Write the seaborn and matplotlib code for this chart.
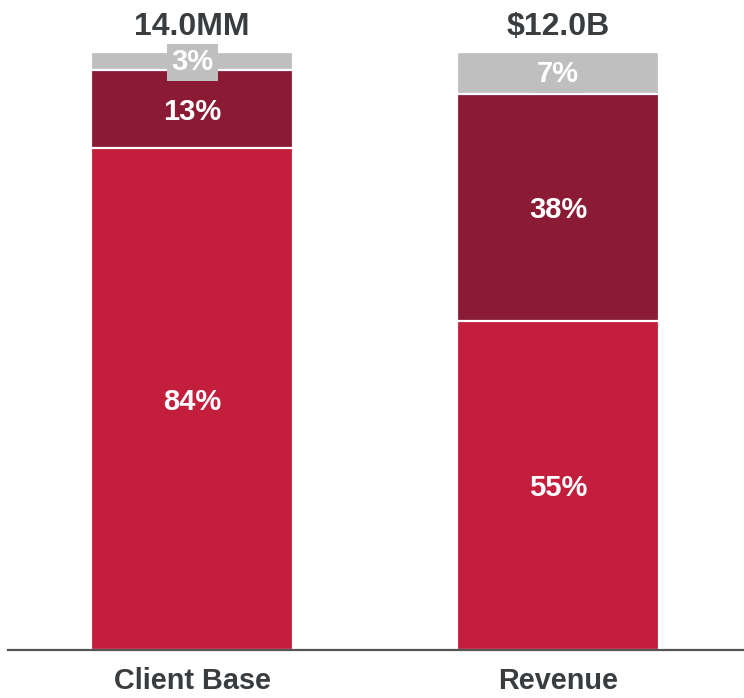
import matplotlib
matplotlib.use("Agg")
import matplotlib.pyplot as plt
import seaborn as sns
import pandas as pd

categories = ["Client Base", "Revenue"]
totals = ["14.0MM", "$12.0B"]
seg_bottom = [84, 55]   # bright red
seg_middle = [13, 38]   # dark red
seg_top = [3, 7]        # gray

RED = "#C41E3D"
DARK = "#8B1A34"
GRAY = "#BFBFBF"
TXT = "#3A3D40"

sns.set_theme(style="white")
plt.rcParams["font.family"] = ["Liberation Sans", "DejaVu Sans"]

fig = plt.figure(figsize=(7.44, 6.98), dpi=100)
ax = fig.add_axes([8 / 744, 1 - 650 / 698, 1 - 8 / 744, (650 - 52) / 698])

cum_mid = [b + m for b, m in zip(seg_bottom, seg_middle)]
cum_top = [c + t for c, t in zip(cum_mid, seg_top)]

df = pd.DataFrame({"cat": categories, "top": cum_top, "mid": cum_mid, "bot": seg_bottom})

for col, color in [("top", GRAY), ("mid", DARK), ("bot", RED)]:
    sns.barplot(data=df, x="cat", y=col, color=color, width=0.552, ax=ax,
                edgecolor="white", linewidth=1.6, saturation=1)

ax.set_xlim(-0.503, 1.508)
ax.set_ylim(0, 100)
ax.set_xlabel("")
ax.set_ylabel("")
ax.set_yticks([])
for s in ["left", "right", "top"]:
    ax.spines[s].set_visible(False)
ax.spines["bottom"].set_color("#555555")
ax.spines["bottom"].set_linewidth(1.6)
ax.tick_params(axis="x", length=0, pad=12)
for lbl in ax.get_xticklabels():
    lbl.set_fontsize(20.8)
    lbl.set_fontweight("bold")
    lbl.set_color(TXT)

LS = 21
off = (0, -2)
for i in range(len(categories)):
    b, m, t = seg_bottom[i], seg_middle[i], seg_top[i]
    ax.annotate(f"{b}%", xy=(i, b / 2), xytext=off, textcoords="offset points",
                ha="center", va="center", color="white", fontsize=LS, fontweight="bold")
    ax.annotate(f"{m}%", xy=(i, b + m / 2), xytext=off, textcoords="offset points",
                ha="center", va="center", color="white", fontsize=LS, fontweight="bold")
    ax.annotate(f"{t}%", xy=(i, b + m + t / 2), xytext=(0, -1), textcoords="offset points",
                ha="center", va="center", color="white", fontsize=LS, fontweight="bold",
                annotation_clip=False,
                bbox=dict(boxstyle="square,pad=0.15", fc=GRAY, ec="none"))
    ax.annotate(totals[i], xy=(i, cum_top[i]), xytext=(0, 12), textcoords="offset points",
                ha="center", va="baseline", color=TXT, fontsize=23, fontweight="bold",
                annotation_clip=False)

fig.savefig("out.png", dpi=100)
